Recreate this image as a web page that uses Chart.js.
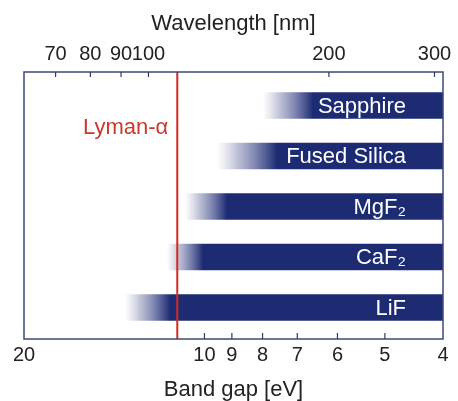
<!DOCTYPE html>
<html>
<head>
<meta charset="utf-8">
<script src="https://cdn.jsdelivr.net/npm/chart.js@4/dist/chart.umd.min.js"></script>
<style>
  html, body { margin: 0; padding: 0; background: #fff; }
  #wrap { width: 458px; height: 401px; }
</style>
</head>
<body>
<div id="wrap"><canvas id="myChart"></canvas></div>
<script>
const materials = ["Sapphire", "Fused Silica", "MgF\u2082", "CaF\u2082", "LiF"];
const fadeStart = [7.99, 9.53, 10.78, 11.55, 13.57];  // where the shading starts
const cutoff = [6.59, 7.57, 9.17, 10.06, 11.4];       // fully opaque from here
const barEnd = 4;
const lymanAlpha = 11.1;  // as drawn

const energyTicks = [20, 10, 9, 8, 7, 6, 5, 4];
const energyMarks = [10, 9, 8, 7, 6, 5];
const wavelengthTicks = [70, 80, 90, 100, 200, 300];

const navy = "#1d2b73";
const font = "'Liberation Sans', Arial, sans-serif";

function fadeFill(ctx) {
  const chart = ctx.chart;
  const xs = chart.scales.x;
  if (!chart.chartArea || ctx.dataIndex === undefined) return navy;
  const i = ctx.dataIndex;
  const x0 = xs.getPixelForValue(fadeStart[i]);
  const x1 = xs.getPixelForValue(cutoff[i]);
  const g = chart.ctx.createLinearGradient(x0, 0, x1, 0);
  g.addColorStop(0, "rgba(125,130,170,0)");
  g.addColorStop(0.35, "rgba(95,102,155,0.42)");
  g.addColorStop(1, navy);
  return g;
}

const decor = {
  id: "decor",
  afterDatasetsDraw(chart) {
    const c = chart.ctx;
    const a = chart.chartArea;
    const xs = chart.scales.x, xt = chart.scales.x2;
    c.save();
    // bar labels
    c.font = "22px " + font;
    c.fillStyle = "#fff";
    c.textAlign = "right";
    c.textBaseline = "middle";
    const labelX = xs.getPixelForValue(barEnd) - 37;
    chart.getDatasetMeta(0).data.forEach((bar, i) => {
      c.fillText(materials[i], labelX, bar.y + 1);
    });
    // Lyman-alpha line
    const lx = xs.getPixelForValue(lymanAlpha);
    c.strokeStyle = "#d42a22";
    c.lineWidth = 2;
    c.beginPath();
    c.moveTo(lx, a.top);
    c.lineTo(lx, a.bottom);
    c.stroke();
    c.fillStyle = "#c9392e";
    c.fillText("Lyman-\u03b1", lx - 9, 128);
    // frame
    c.strokeStyle = "#3d4a7c";
    c.lineWidth = 1.5;
    c.strokeRect(a.left, a.top, a.right - a.left, a.bottom - a.top);
    // inward tick marks
    c.lineWidth = 1.2;
    c.strokeStyle = "#333a5a";
    c.beginPath();
    energyMarks.forEach(v => {
      const x = xs.getPixelForValue(v);
      c.moveTo(x, a.bottom);
      c.lineTo(x, a.bottom - 6);
    });
    wavelengthTicks.forEach(v => {
      const x = xt.getPixelForValue(v);
      c.moveTo(x, a.top);
      c.lineTo(x, a.top + 5);
    });
    c.stroke();
    c.restore();
  }
};

new Chart("myChart", {
  type: "bar",
  data: {
    datasets: [{
      data: materials.map((m, i) => ({ x: [fadeStart[i], barEnd], y: i })),
      backgroundColor: fadeFill,
      borderWidth: 0,
      barThickness: 26
    }]
  },
  options: {
    indexAxis: "y",
    responsive: true,
    maintainAspectRatio: false,
    animation: false,
    layout: { padding: { left: 24, right: 15, top: 0, bottom: 0 } },
    plugins: { legend: { display: false }, tooltip: { enabled: false } },
    scales: {
      y: {
        type: "linear",
        display: false,
        offset: false,
        reverse: true,
        min: -0.663,
        max: 4.624
      },
      x: {
        type: "logarithmic",
        position: "bottom",
        reverse: true,
        min: 4,
        max: 20,
        grid: { display: false, drawTicks: false },
        border: { display: false },
        afterBuildTicks: s => { s.ticks = energyTicks.map(v => ({ value: v })); },
        afterFit: s => { s.height = 62; },
        ticks: {
          autoSkip: false,
          maxRotation: 0,
          padding: 4,
          color: "#222",
          font: { family: font, size: 20 },
          callback: v => String(v)
        },
        title: {
          display: true,
          text: "Band gap [eV]",
          color: "#222",
          font: { family: font, size: 22 },
          padding: { top: 0, bottom: -2 }
        }
      },
      x2: {
        type: "logarithmic",
        position: "top",
        min: 1240 / 20,
        max: 1240 / 4,
        grid: { display: false, drawTicks: false },
        border: { display: false },
        afterBuildTicks: s => { s.ticks = wavelengthTicks.map(v => ({ value: v })); },
        afterFit: s => { s.height = 72; },
        ticks: {
          autoSkip: false,
          maxRotation: 0,
          padding: 6,
          color: "#222",
          font: { family: font, size: 20 },
          callback: v => String(v)
        },
        title: {
          display: true,
          text: "Wavelength [nm]",
          color: "#222",
          font: { family: font, size: 22 },
          padding: { top: 11, bottom: 0 }
        }
      }
    }
  },
  plugins: [decor]
});
</script>
</body>
</html>
